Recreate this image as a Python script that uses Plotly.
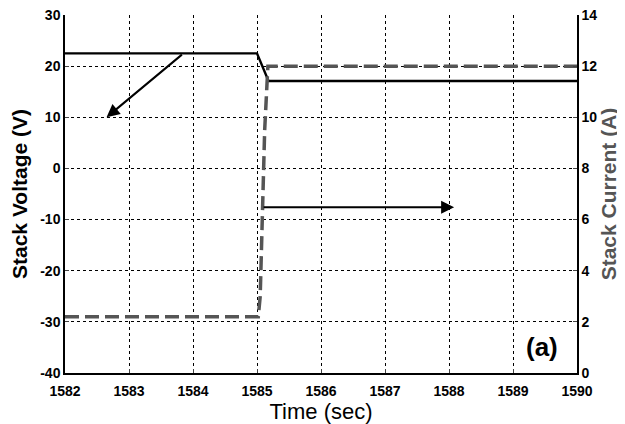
import plotly.graph_objects as go

time_v = [1582.0, 1585.0, 1585.18, 1590.0]
voltage = [22.5, 22.5, 17.1, 17.1]

time_i = [1582.0, 1585.02, 1585.05, 1585.08, 1585.12, 1585.17, 1590.0]
current = [2.2, 2.2, 3.0, 6.0, 9.5, 12.0, 12.0]

x_ticks = [1582, 1583, 1584, 1585, 1586, 1587, 1588, 1589, 1590]
yl_ticks = [-40, -30, -20, -10, 0, 10, 20, 30]
yr_ticks = [0, 2, 4, 6, 8, 10, 12, 14]

FONT = "Liberation Sans"

fig = go.Figure()
fig.add_trace(go.Scatter(x=time_v, y=voltage, mode="lines",
                         line=dict(color="black", width=2.4), yaxis="y", showlegend=False))
fig.add_trace(go.Scatter(x=time_i, y=current, mode="lines",
                         line=dict(color="#555555", width=3.5, dash="14px,6px"),
                         yaxis="y2", showlegend=False))

grid = dict(showgrid=True, gridcolor="black", griddash="3px,3px", gridwidth=1)

fig.update_layout(
    width=617, height=416,
    margin=dict(l=57, r=48, t=7, b=51),
    plot_bgcolor="white", paper_bgcolor="white",
    font=dict(family=FONT, color="black"),
    xaxis=dict(range=[1582, 1590], tickvals=x_ticks, ticktext=[str(t) for t in x_ticks],
               showline=True, linecolor="black", linewidth=1.5, ticks="inside", ticklen=4,
               tickfont=dict(size=14, weight="bold"), zeroline=False, automargin=False,
               ticklabelstandoff=4, ticklabeloverflow="allow",
               title=dict(text="Time (sec)", font=dict(size=22), standoff=2), **grid),
    yaxis=dict(range=[-40, 30], tickvals=yl_ticks, ticktext=[str(t) for t in yl_ticks],
               showline=True, linecolor="black", linewidth=1.5, ticks="inside", ticklen=4,
               tickfont=dict(size=14, weight="bold"), zeroline=False, automargin=False,
               ticklabeloverflow="allow",
               title=dict(text="Stack Voltage (V)", font=dict(size=21, weight="bold"), standoff=9),
               **grid),
    yaxis2=dict(range=[0, 14], tickvals=yr_ticks, overlaying="y", side="right",
                showline=True, linecolor="black", linewidth=1.5, ticks="inside", ticklen=4,
                tickfont=dict(size=14, weight="bold"), showgrid=False, zeroline=False,
                automargin=False, ticklabeloverflow="allow",
                title=dict(text="Stack Current (A)", font=dict(size=21, weight="bold", color="#555555"),
                           standoff=3)),
    annotations=[
        dict(x=1582.65, y=10, ax=1583.85, ay=22.5, xref="x", yref="y", axref="x", ayref="y",
             showarrow=True, arrowhead=2, arrowsize=1.3, arrowwidth=2, arrowcolor="black", text=""),
        dict(x=1588.08, y=-7.6, ax=1585.08, ay=-7.6, xref="x", yref="y", axref="x", ayref="y",
             showarrow=True, arrowhead=2, arrowsize=1.3, arrowwidth=2, arrowcolor="black", text=""),
        dict(x=1589.45, y=1.0, xref="x", yref="y2", text="(a)", showarrow=False,
             font=dict(size=26, weight="bold", family=FONT)),
    ],
)

fig.write_html("out.html")
